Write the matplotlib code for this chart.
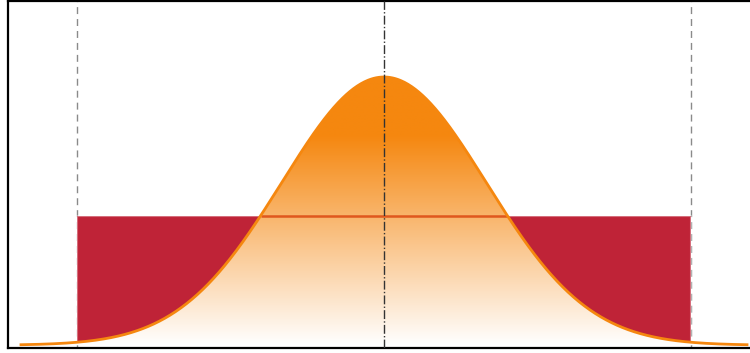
import numpy as np
import matplotlib
matplotlib.use("Agg")
import matplotlib.pyplot as plt
from matplotlib.patches import Rectangle, Polygon
from matplotlib.colors import to_rgb

# ---- data ----
mu = 0.0
sigma = 1.0
uniform_low = -3.0
uniform_high = 3.0
uniform_height = 0.192
curve_range = [-3.55, 3.55]
x_limits = [-3.677, 3.677]
y_limits = [-0.0034, 0.512]

orange = "#f5870f"
crimson = "#bf2337"

fig = plt.figure(figsize=(7.5, 3.53), dpi=100)
ax = fig.add_axes([8 / 750, 5.5 / 353, 752 / 750, 346.5 / 353])
ax.set_xlim(*x_limits)
ax.set_ylim(*y_limits)

x = np.linspace(curve_range[0], curve_range[1], 800)
pdf = np.exp(-0.5 * ((x - mu) / sigma) ** 2) / (sigma * np.sqrt(2 * np.pi))
peak = pdf.max()

# reference lines at uniform bounds
for xv in (uniform_low, uniform_high):
    ax.axvline(xv, color="#8a8a8a", lw=1.0, dashes=(5, 3.6), zorder=1)

# uniform rectangle
rect = Rectangle((uniform_low, 0), uniform_high - uniform_low, uniform_height,
                 facecolor=crimson, edgecolor=(1, 1, 1, 0.35), lw=1.5, zorder=2)
ax.add_patch(rect)

# gradient fill under gaussian
ny = 400
yy = np.linspace(0, peak, ny)
frac = np.clip(yy / (0.78 * peak), 0, 1)
o = np.array(to_rgb(orange))
w = np.array([1.0, 1.0, 1.0])
cols = w[None, :] * (1 - frac[:, None]) + o[None, :] * frac[:, None]
img = np.repeat(cols[:, None, :], 2, axis=1)
im = ax.imshow(img, extent=[curve_range[0], curve_range[1], 0, peak],
               origin="lower", aspect="auto", zorder=3, interpolation="bilinear")
verts = np.column_stack([np.r_[x, x[::-1]], np.r_[pdf, np.zeros_like(pdf)]])
poly = Polygon(verts, closed=True, facecolor="none", edgecolor="none",
               transform=ax.transData)
ax.add_patch(poly)
im.set_clip_path(poly)

# rectangle top edge visible through the gaussian
inside = pdf >= uniform_height
ax.plot(x[inside], np.full(inside.sum(), uniform_height), color="#e0581e",
        lw=1.8, zorder=4, solid_capstyle="butt")

# gaussian outline
ax.plot(x, pdf, color=orange, lw=2.0, zorder=5)

# mean line
ax.axvline(mu, color="#333333", lw=1.0, ls="-.", zorder=6)

for side in ("left", "top", "bottom", "right"):
    ax.spines[side].set_linewidth(1.6)
    ax.spines[side].set_color("black")
ax.set_xticks([])
ax.set_yticks([])

fig.savefig("out.png", dpi=100)
